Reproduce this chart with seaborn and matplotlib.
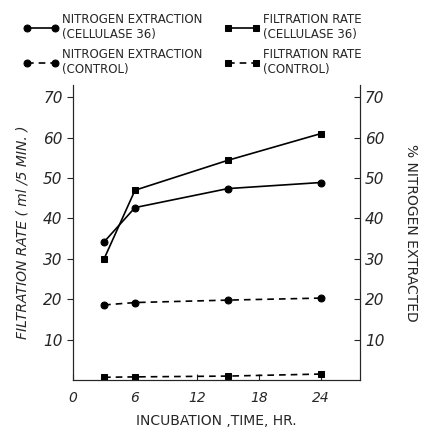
import pandas as pd
import seaborn as sns
import matplotlib.pyplot as plt

hours = [3, 6, 15, 24]
nitrogen_cellulase = [34.2, 42.7, 47.4, 48.9]
filtration_cellulase = [30.0, 47.0, 54.4, 61.0]
nitrogen_control = [18.6, 19.2, 19.8, 20.3]
filtration_control = [0.7, 0.8, 1.0, 1.5]

labels = [
    "NITROGEN EXTRACTION\n(CELLULASE 36)",
    "FILTRATION RATE\n(CELLULASE 36)",
    "NITROGEN EXTRACTION\n(CONTROL)",
    "FILTRATION RATE\n(CONTROL)",
]

sns.set_style("ticks")
plt.rcParams["font.family"] = ["DejaVu Sans"]

fig = plt.figure(figsize=(4.25, 4.3), dpi=100)
ax = fig.add_axes([0.172, 0.116, 0.675, 0.686])

series = [
    (nitrogen_cellulase, "o", "-"),
    (filtration_cellulase, "s", "-"),
    (nitrogen_control, "o", (0, (4, 3))),
    (filtration_control, "s", (0, (4, 3))),
]
handles = []
for vals, mk, ls in series:
    df = pd.DataFrame({"hours": hours, "value": vals})
    sns.lineplot(data=df, x="hours", y="value", ax=ax, color="black",
                 marker=mk, markersize=5, linewidth=1.2, linestyle=ls,
                 markeredgecolor="black")
    handles.append(ax.lines[-1])

ax.set_xlim(0, 27.8)
ax.set_ylim(0, 73)
ax.set_xticks([0, 6, 12, 18, 24])
ax.set_yticks([10, 20, 30, 40, 50, 60, 70])
ax.tick_params(axis="x", direction="in", length=4, labelsize=10, pad=8)
ax.tick_params(axis="y", direction="out", length=4, labelsize=11)
for t in ax.get_xticklabels() + ax.get_yticklabels():
    t.set_style("italic")
ax.set_xlabel("INCUBATION ,TIME, HR.", fontsize=10, labelpad=6)
ax.set_ylabel("FILTRATION RATE ( ml /5 MIN. )", fontsize=10, style="italic",
              labelpad=10)
ax.spines["top"].set_visible(False)

ax2 = ax.twinx()
ax2.set_ylim(0, 73)
ax2.set_yticks([10, 20, 30, 40, 50, 60, 70])
ax2.tick_params(axis="y", direction="in", length=4, labelsize=11)
for t in ax2.get_yticklabels():
    t.set_style("italic")
ax2.set_ylabel("% NITROGEN EXTRACTED", fontsize=10, rotation=-90, labelpad=24)
ax2.spines["top"].set_visible(False)

# legend fills column by column, so reorder to get the reference's rows
order = [0, 2, 1, 3]
fig.legend([handles[i] for i in order], [labels[i] for i in order],
           loc="upper left", bbox_to_anchor=(0.03, 0.995),
           ncol=2, frameon=False, numpoints=2, handlelength=3.0,
           fontsize=8.5, columnspacing=1.8, labelspacing=0.6, handletextpad=0.3)

fig.savefig("out.png", dpi=100)
